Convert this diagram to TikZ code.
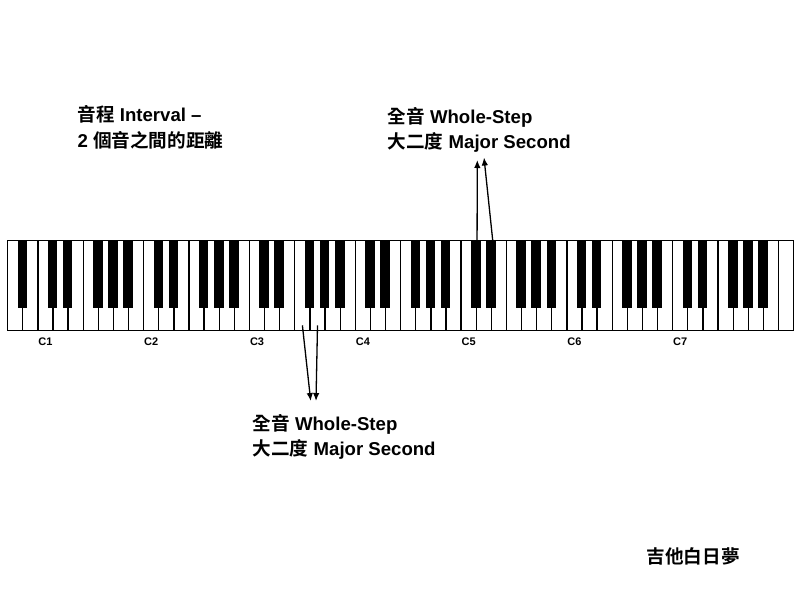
\documentclass[tikz,border=0pt]{standalone}
\usepackage{fontspec}
\setmainfont{Liberation Sans}
\newfontfamily\cjk[BoldFont={Noto Sans CJK TC Bold}]{Noto Sans CJK TC}
\newcommand{\zh}[1]{{\cjk #1}}
\usetikzlibrary{arrows.meta}

\tikzset{
  whitekey/.style={draw, line width=1.3pt, minimum width=15.115pt, minimum height=90pt,
    inner sep=0pt, anchor=north west},
  blackkey/.style={draw, fill=black, line width=0.6pt, minimum width=8.6pt, minimum height=67pt,
    inner sep=0pt, anchor=north},
  keylabel/.style={font=\bfseries\fontsize{11}{11}\selectfont, inner sep=0pt, anchor=north},
  caption/.style={font=\bfseries\fontsize{18.6}{25}\selectfont, inner sep=0pt, anchor=base west},
  interval/.style={line width=1.3pt, -{Latex[length=8pt,width=6.5pt]}}
}

\begin{document}
\begin{tikzpicture}[x=1pt, y=-1pt]
  \useasboundingbox (0,0) rectangle (800,600);

  % 52 white keys, A0 to C8
  \foreach \k in {0,...,51}
    \node[whitekey] (w\k) at (7+15.115*\k, 240) {};

  % black keys, none after B and E
  \foreach \k in {0,...,50} {
    \pgfmathtruncatemacro\nk{mod(\k,7)}
    \ifnum\nk=1 \else\ifnum\nk=4 \else
      \node[blackkey] (b\k) at (7+15.115*\k+15.115, 240) {};
    \fi\fi
  }

  \foreach \n in {1,...,7} {
    \pgfmathtruncatemacro\k{7*\n-5}
    \node[keylabel] (c\n) at ([yshift=-6pt]w\k.south) {C\n};
  }

  % captions
  \node[caption] (interval) at (77.3, 121) {\zh{音程} Interval –};
  \node[caption] (distance) at (77.3, 147) {2 \zh{個音之間的距離}};

  \node[caption] (wholeup) at (387.5, 123) {\zh{全音} Whole-Step};
  \node[caption] (secondup) at (387.5, 148.5) {\zh{大二度} Major Second};

  \node[caption] (wholedown) at (252.5, 430) {\zh{全音} Whole-Step};
  \node[caption] (seconddown) at (252.5, 455.5) {\zh{大二度} Major Second};

  \node[caption] (credit) at (646.5, 563.5) {\zh{吉他白日夢}};

  % whole steps F3-G3 and C#5-D#5
  \coordinate (F3tip) at (310.7, 401);
  \coordinate (G3tip) at (316, 401);
  \draw[interval] ([yshift=6pt]w19.south) -- (F3tip);
  \draw[interval] ([yshift=6pt]w20.south) -- (G3tip);

  \coordinate (Cs5tip) at (477.3, 160);
  \coordinate (Ds5tip) at (484, 157.5);
  \draw[interval] ([xshift=1.5pt]b30.north) -- (Cs5tip);
  \draw[interval] ([xshift=2pt]b31.north) -- (Ds5tip);
\end{tikzpicture}
\end{document}
